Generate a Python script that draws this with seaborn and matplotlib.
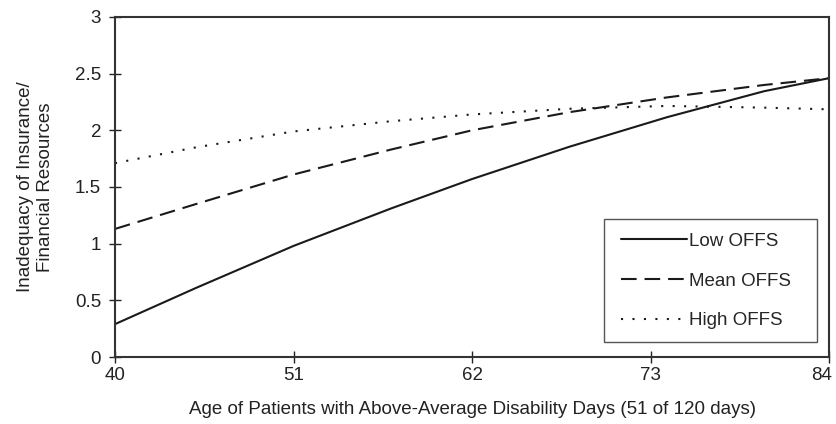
import numpy as np
import pandas as pd
import matplotlib.pyplot as plt
import matplotlib.transforms as mtransforms
from matplotlib.patches import Rectangle
import seaborn as sns

# Values
age = [40, 45, 51, 57, 62, 68, 74, 80, 84]
low_offs = [0.29, 0.61, 0.98, 1.31, 1.57, 1.855, 2.115, 2.345, 2.46]
mean_offs = [1.13, 1.35, 1.61, 1.83, 2.00, 2.16, 2.29, 2.40, 2.46]
high_offs = [1.71, 1.85, 1.99, 2.08, 2.14, 2.19, 2.215, 2.20, 2.185]
series_names = ["Low OFFS", "Mean OFFS", "High OFFS"]
x_ticks = [40, 51, 62, 73, 84]
y_ticks = [0, 0.5, 1, 1.5, 2, 2.5, 3]

df = pd.DataFrame({
    "age": age * 3,
    "value": low_offs + mean_offs + high_offs,
    "group": [series_names[0]] * len(age) + [series_names[1]] * len(age) + [series_names[2]] * len(age),
})

sns.set_style("ticks")
plt.rcParams['font.family'] = ['Liberation Sans', 'DejaVu Sans']
fs = 13.5

fig = plt.figure(figsize=(8.37, 4.24), dpi=100)
ax = fig.add_axes([0.1374, 0.158, 0.8531, 0.802])

dash_map = {"Low OFFS": "", "Mean OFFS": (7.5, 3.8), "High OFFS": (1, 4.5)}
sns.lineplot(data=df, x="age", y="value", style="group", dashes=dash_map,
             color="#1a1a1a", linewidth=1.5, ax=ax, legend=True)

ax.set_xlim(40, 84)
ax.set_ylim(0, 3)
ax.set_xticks(x_ticks)
ax.set_yticks(y_ticks)
ax.set_yticklabels([f"{v:g}" for v in y_ticks])
ax.tick_params(direction="inout", length=8, width=1, colors="#222222", labelsize=fs)
ax.tick_params(axis="x", pad=3.5)
ax.tick_params(axis="y", pad=6)
# last x label sits a little inside the figure edge
shift = mtransforms.ScaledTranslation(-7 / 100, 0, fig.dpi_scale_trans)
last = ax.get_xticklabels()[-1]
last.set_transform(last.get_transform() + shift)

for s in ax.spines.values():
    s.set_linewidth(1.5)
    s.set_color("#333333")

ax.set_xlabel("Age of Patients with Above-Average Disability Days (51 of 120 days)",
              fontsize=fs, color="#222222", labelpad=12)
ax.set_ylabel("Inadequacy of Insurance/\nFinancial Resources", fontsize=fs,
              color="#222222", labelpad=15, linespacing=1.25)

# legend entries without frame, with a separate box drawn around them
leg = ax.legend(loc="center left", bbox_to_anchor=(0.7087, 0.2235), fontsize=fs,
                frameon=False, handlelength=3.5, handletextpad=0.1,
                labelspacing=1.2, borderpad=0, borderaxespad=0)
for line in leg.get_lines():
    line.set_linewidth(1.5)
ax.add_patch(Rectangle((0.685, 0.044), 0.298, 0.362, transform=ax.transAxes,
                       facecolor="none", edgecolor="#555555", linewidth=1.0, zorder=5))

fig.savefig("out.png", dpi=100)
